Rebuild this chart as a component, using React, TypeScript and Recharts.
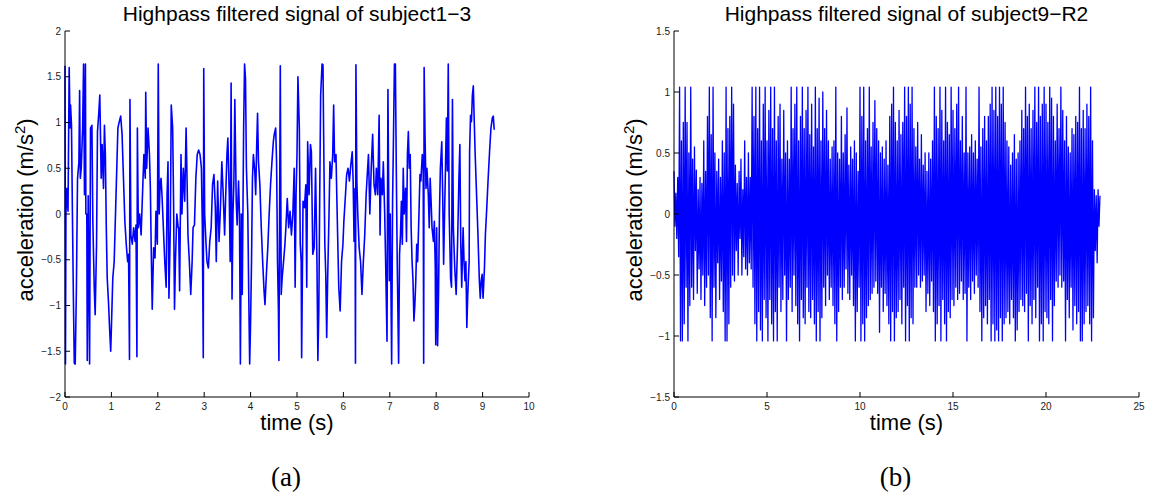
import React from 'react';
import { LineChart, Line, XAxis, YAxis } from 'recharts';

// (a) subject1-3, readings as [time s, acceleration m/s^2]
const subj13Part1: [number, number][] = [
  [0, 1.62], [0.01, -1.64], [0.02, 0], [0.04, 0.28], [0.065, 0.03], [0.09, 1.6], [0.11, 0.94], [0.12, 1.19],
  [0.14, 0.97], [0.16, 0], [0.18, -0.88], [0.2, -1.63], [0.22, -1.64], [0.245, -0.84], [0.27, 0.39], [0.3, 0.57],
  [0.315, 1.35], [0.33, 0.39], [0.35, 0.5], [0.38, 0.94], [0.4, 1.64], [0.42, 0.21], [0.44, 1.64], [0.45, 0],
  [0.47, 0], [0.48, -1.6], [0.5, 0.2], [0.53, -1.64], [0.55, 0.94], [0.58, 0.97], [0.6, -0.08], [0.63, -0.8],
  [0.65, -1.1], [0.68, -0.33], [0.7, 0.9], [0.73, 1.12], [0.75, 1.3], [0.78, 0.39], [0.8, 0.76], [0.83, 0.28],
  [0.85, 0.97], [0.87, 0.65], [0.89, -0.15], [0.91, -0.7], [0.94, -0.99], [0.96, -1.24], [0.985, -1.5], [1.0, -1.24],
  [1.03, -0.7], [1.06, -0.52], [1.09, 0.03], [1.12, 0.57], [1.14, 0.94], [1.17, 1.01], [1.2, 1.07], [1.23, 0.87],
  [1.26, 0.39], [1.29, -0.08], [1.32, -0.33], [1.35, -0.52], [1.37, -0.44], [1.39, -1.59], [1.4, 1.25], [1.42, -0.23],
  [1.45, -0.33], [1.48, -0.15], [1.51, -0.3], [1.53, -0.12], [1.55, -1.56], [1.56, 0.94], [1.58, -0.15], [1.61, 0],
  [1.64, -0.23], [1.67, 0.21], [1.7, 0.65], [1.73, 0.39], [1.74, 1.33], [1.76, 0.5], [1.79, 0.94], [1.82, 0.65],
  [1.84, 0.28], [1.86, -0.44], [1.88, -1.04], [1.91, -0.37], [1.94, -0.48], [1.96, 0.03], [1.99, -0.33], [2.01, 1.64],
  [2.03, 0], [2.05, 0.32], [2.07, 0.39], [2.09, 0.21], [2.12, -0.15], [2.15, -0.52], [2.18, -0.8], [2.2, 0.21],
  [2.22, 0.57], [2.24, -0.92], [2.27, -0.15], [2.29, 1.19], [2.32, 0.94], [2.34, 0.14], [2.36, -1.04], [2.38, -0.52],
  [2.41, 0], [2.44, -0.15],
];
const subj13Part2: [number, number][] = [
  [2.45, -0.15], [2.47, -0.84], [2.5, 0.65], [2.52, 0], [2.55, 0.5], [2.58, 0.14], [2.61, 0.94], [2.63, 0.39],
  [2.65, -0.23], [2.68, -0.52], [2.71, -0.88], [2.74, -0.52], [2.76, -0.15], [2.79, -0.12], [2.82, 0.39], [2.85, 0.65],
  [2.88, 0.7], [2.91, 0.65], [2.94, 0.5], [2.96, -0.15], [2.98, -1.57], [2.99, 1.59], [3.01, 0], [3.04, -0.33],
  [3.06, -0.52], [3.09, -0.59], [3.12, -0.3], [3.15, -0.15], [3.18, 0.32], [3.21, 0.43], [3.24, 0.07], [3.26, -0.52],
  [3.29, 0.36], [3.32, -0.3], [3.35, 0.07], [3.38, 0.57], [3.41, 0.21], [3.44, -0.23], [3.46, 0.14], [3.49, 0.65],
  [3.51, 0.83], [3.54, 0.21], [3.56, -0.52], [3.58, 1.43], [3.6, -0.93], [3.62, 0], [3.64, 0.36], [3.66, 1.25],
  [3.69, 0.14], [3.71, -0.12], [3.74, 0.36], [3.76, 0], [3.78, -1.64], [3.8, 0], [3.82, -0.88], [3.85, 0.94],
  [3.87, 1.64], [3.89, 1.48], [3.91, 0.5], [3.94, 0], [3.96, -0.88], [3.98, -1.64], [4.0, -1.17], [4.02, -0.52],
  [4.04, 0.39], [4.06, 0.65], [4.09, 0.47], [4.11, 0.21], [4.13, 0.72], [4.15, 1.1], [4.17, 0.57], [4.2, 0.32],
  [4.23, -0.15], [4.26, -0.52], [4.29, -0.84], [4.31, -0.99], [4.34, -0.66], [4.37, -0.37], [4.4, 0], [4.43, 0.32],
  [4.46, 0.57], [4.49, 0.79], [4.51, 0.87], [4.54, 0.94], [4.56, 0.57], [4.58, -0.52], [4.6, -1.06], [4.61, -1.6],
  [4.64, 1.62], [4.66, -0.88], [4.68, -0.7], [4.71, -0.52], [4.74, -0.33], [4.76, -0.15], [4.79, 0.17], [4.82, -0.15],
  [4.85, 0.03], [4.88, -0.23], [4.91, 0],
];
const subj13Part3: [number, number][] = [
  [4.94, 0.5], [4.96, -0.8], [4.98, 0.21], [5.0, 0.65], [5.02, 1.5], [5.05, 0.94], [5.07, -0.33], [5.09, -0.52],
  [5.1, -1.57], [5.13, 0.14], [5.16, 0.07], [5.19, 0.32], [5.21, -0.8], [5.23, 0.79], [5.26, 0.21], [5.29, 0.76],
  [5.31, 0.68], [5.34, -0.44], [5.37, -0.37], [5.4, 0.5], [5.43, -0.52], [5.45, -1.6], [5.47, -1.06], [5.49, 0.21],
  [5.51, 1.3], [5.54, 1.64], [5.56, 1.63], [5.58, 0.57], [5.6, -0.33], [5.62, -0.66], [5.64, -1.35], [5.66, -0.73],
  [5.69, 0], [5.71, 0.57], [5.74, 0.39], [5.77, 0.65], [5.79, 1.19], [5.81, 0.57], [5.84, 0.65], [5.86, 0.14],
  [5.88, -0.33], [5.9, -0.8], [5.93, -1.06], [5.96, -0.52], [5.99, -0.33], [6.01, -0.08], [6.04, 0.17], [6.07, 0.43],
  [6.1, 0.5], [6.13, 0.36], [6.16, 0.54], [6.19, 0.68], [6.21, 0.36], [6.23, -0.3], [6.25, 0.28], [6.26, -1.63],
  [6.27, 1.63], [6.29, 0.36], [6.31, 0], [6.34, -0.37], [6.37, -0.52], [6.4, -0.88], [6.43, -0.52], [6.46, -0.23],
  [6.49, 0.21], [6.51, 0.39], [6.54, 0.65], [6.57, 0], [6.6, 0.5], [6.63, 0.87], [6.66, 0.32], [6.69, 0.21],
  [6.71, 0.5], [6.74, 0.21], [6.77, 1.08], [6.79, -0.23], [6.81, 0.39], [6.84, 0.21], [6.86, 0.57], [6.89, 0],
  [6.91, -0.52], [6.94, -1.39], [6.96, 1.36], [6.99, -0.73], [7.01, 0], [7.04, -1.64], [7.06, 0.14], [7.08, 0.87],
  [7.1, 1.64], [7.12, 1.64], [7.14, 0.5], [7.16, -0.52], [7.19, -1.63], [7.21, -0.44], [7.23, -0.23], [7.25, 0.14],
  [7.27, -0.33], [7.29, 0.5], [7.31, 0], [7.34, 0.28], [7.36, -0.3], [7.38, 0.65], [7.4, 0.9], [7.42, 0.5],
];
const subj13Part4: [number, number][] = [
  [7.44, 0.65], [7.46, -0.15], [7.48, -0.52], [7.5, -0.73], [7.52, -1.17], [7.54, -0.99], [7.56, -0.73], [7.58, -0.33],
  [7.6, -0.52], [7.63, 0.03], [7.65, 0.43], [7.67, 0.36], [7.7, 0.65], [7.72, 0.5], [7.73, -1.63], [7.74, 1.6],
  [7.76, 0.83], [7.78, 0.28], [7.8, 0.5], [7.83, 0.21], [7.85, -0.15], [7.87, 0.39], [7.89, 0.14], [7.91, -0.15],
  [7.94, -0.3], [7.96, -0.08], [7.98, -0.59], [7.99, -1.43], [8.01, -0.15], [8.03, -1.44], [8.05, -0.88], [8.07, 0],
  [8.09, 0.5], [8.12, 0.79], [8.14, 0.21], [8.16, -0.55], [8.18, 0], [8.2, 0.5], [8.22, 1.05], [8.24, 0.47],
  [8.26, 1.64], [8.28, 0], [8.31, -0.7], [8.33, -0.8], [8.35, 1.25], [8.37, -0.15], [8.4, -0.59], [8.43, -0.88],
  [8.46, -0.33], [8.49, 0.39], [8.51, 0.76], [8.53, -0.33], [8.55, -0.8], [8.58, -0.15], [8.6, -0.52], [8.62, -0.73],
  [8.64, -0.52], [8.66, -1.24], [8.68, -0.88], [8.71, -0.52], [8.72, 0.68], [8.74, 1.08], [8.76, 1.01], [8.78, 1.3],
  [8.8, 1.4], [8.82, 1.01], [8.84, 0.65], [8.87, 0.21], [8.9, -0.23], [8.93, -0.73], [8.95, -0.92], [8.97, -0.73],
  [8.99, -0.66], [9.01, -0.92], [9.04, -0.59], [9.06, -0.23], [9.09, 0.07], [9.12, 0.39], [9.15, 0.68], [9.18, 0.94],
  [9.21, 1.05], [9.23, 1.07], [9.25, 0.92],
];

// (b) subject9-R2, one sample every 0.05 s, one row per second
const SAMPLE_STEP_B = 0.05;
const subj9R2Part1 = [
  0.35, -0.1, 0.17, -0.2, 0.3, -0.35, 1.04, -1.04, 0.6, -1.04, 0.75, -0.9, 1.04, -0.6, 0.75, -1.04, 0.5, -0.75, 1.04, -0.6,
  0.45, -0.7, 0.55, -0.3, 0.36, -0.65, 0.2, -0.45, 0.3, -0.7, 0.25, -0.5, 0.6, -0.75, 0.35, -0.6, 0.8, -0.5, 1.04, -0.85,
  0.65, -1.04, 1.04, -0.6, 0.5, -0.85, 0.35, -0.4, 0.45, -0.7, 0.3, -0.55, 0.6, -0.8, 0.5, -1.04, 1.04, -1.04, 0.7, -0.9,
  0.8, -0.6, 1.04, -0.5, 0.9, -0.55, 0.4, -0.3, 0.25, -0.5, 0.35, -0.2, 0.45, -0.5, 0.2, -0.35, 0.6, -0.45, 0.3, -0.5,
  0.5, -0.4, 0.3, -0.45, 1.04, -0.6, 0.8, -0.9, 1.04, -1.04, 0.7, -0.8, 1.04, -0.95, 0.6, -1.04, 0.9, -0.7, 1.04, -0.85,
  0.6, -1.04, 0.85, -0.7, 1.04, -0.9, 0.7, -1.04, 1.04, -0.8, 0.6, -1.04, 0.8, -0.6, 0.9, -0.8, 0.45, -0.7, 0.85, -0.5,
];
const subj9R2Part2 = [
  0.5, -1.04, 0.6, -0.7, 0.45, -0.6, 1.04, -0.8, 0.7, -0.5, 0.9, -0.75, 1.04, -0.9, 0.6, -1.04, 0.8, -0.7, 1.04, -0.85,
  0.7, -0.9, 0.85, -0.6, 1.04, -0.8, 0.65, -0.85, 0.9, -0.7, 0.55, -0.9, 1.04, -1.04, 0.7, -0.8, 0.95, -1.04, 0.6, -0.85,
  1.0, -0.6, 0.7, -0.75, 0.85, -0.5, 0.6, -0.7, 0.45, -0.6, 0.55, -0.75, 0.6, -0.9, 1.04, -1.04, 0.5, -0.8, 0.45, -0.6,
  0.8, -0.7, 0.5, -0.6, 0.65, -0.45, 0.87, -0.65, 0.4, -0.7, 0.55, -0.5, 0.45, -0.75, 0.6, -1.04, 0.5, -0.8, 0.35, -0.6,
  1.04, -1.04, 0.8, -0.9, 1.04, -1.04, 0.6, -0.85, 0.7, -0.75, 1.04, -0.7, 0.55, -0.65, 0.75, -0.6, 0.93, -0.55, 0.7, -0.65,
  0.6, -0.97, 0.5, -0.6, 0.55, -0.8, 0.45, -0.65, 0.6, -0.75, 0.4, -0.9, 0.8, -1.04, 0.9, -0.8, 1.04, -1.04, 0.75, -0.85,
];
const subj9R2Part3 = [
  0.6, -0.8, 0.85, -0.7, 0.65, -0.9, 0.75, -0.6, 1.04, -1.04, 0.8, -0.75, 1.04, -1.04, 0.9, -0.85, 1.04, -0.9, 0.7, -0.6,
  0.55, -0.6, 0.75, -0.5, 0.45, -0.6, 0.65, -0.55, 0.4, -0.5, 0.5, -0.8, 0.35, -0.65, 0.5, -0.75, 0.45, -0.55, 0.6, -0.8,
  1.04, -1.04, 0.8, -0.9, 0.7, -0.75, 1.04, -1.04, 0.85, -0.7, 0.6, -0.9, 1.04, -1.04, 0.75, -0.8, 0.65, -0.85, 1.04, -0.7,
  0.85, -0.75, 0.7, -0.6, 0.9, -0.7, 1.04, -0.65, 0.6, -0.55, 0.8, -0.7, 0.5, -0.65, 1.04, -1.04, 0.5, -0.6, 0.55, -0.7,
  0.65, -0.55, 0.5, -0.65, 0.6, -0.5, 0.45, -0.6, 1.04, -0.8, 0.55, -1.04, 0.7, -0.85, 0.8, -0.75, 0.6, -0.9, 0.8, -0.7,
  0.9, -1.04, 1.04, -0.9, 0.85, -1.04, 1.04, -0.95, 0.8, -1.04, 1.04, -0.85, 0.9, -1.04, 1.04, -0.9, 0.75, -0.85, 0.6, -0.8,
];
const subj9R2Part4 = [
  0.55, -0.9, 0.4, -0.7, 0.5, -0.85, 0.65, -1.04, 0.45, -0.95, 0.5, -0.8, 0.6, -0.7, 0.85, -0.75, 0.7, -0.8, 1.04, -0.65,
  0.8, -1.04, 0.9, -0.75, 0.7, -0.9, 0.85, -0.7, 1.04, -0.85, 0.75, -0.6, 1.04, -1.04, 0.8, -0.9, 0.9, -1.04, 1.04, -0.8,
  0.9, -0.85, 0.75, -0.9, 1.04, -0.7, 0.95, -1.04, 0.8, -0.75, 0.6, -0.55, 0.9, -0.6, 0.7, -0.5, 1.04, -0.6, 0.85, -0.55,
  0.6, -1.04, 0.8, -0.7, 0.55, -0.85, 0.5, -0.6, 0.7, -0.95, 0.65, -0.75, 0.8, -0.9, 0.75, -0.8, 1.04, -1.04, 0.7, -1.04,
  0.85, -0.9, 0.7, -0.8, 0.9, -0.75, 0.8, -0.9, 1.04, -1.04, 0.6, -0.85, 0.2, -0.3, 0.15, -0.4, 0.2, -0.1, 0.15,
];

const xTicksA = [0, 1, 2, 3, 4, 5, 6, 7, 8, 9, 10];
const yTicksA = [-2, -1.5, -1, -0.5, 0, 0.5, 1, 1.5, 2];
const xTicksB = [0, 5, 10, 15, 20, 25];
const yTicksB = [-1.5, -1, -0.5, 0, 0.5, 1, 1.5];

const dataA = [...subj13Part1, ...subj13Part2, ...subj13Part3, ...subj13Part4].map(([t, a]) => ({ t, a }));
const dataB = [...subj9R2Part1, ...subj9R2Part2, ...subj9R2Part3, ...subj9R2Part4].map((a, i) => ({
  t: +(i * SAMPLE_STEP_B).toFixed(2),
  a,
}));

const SANS = '"Liberation Sans", Arial, Helvetica, sans-serif';
const SERIF = '"Liberation Serif", "Times New Roman", serif';
const TICK_LEN = 5;
const fmt = (v: number) => String(v).replace('-', '\u2212');

// MATLAB-style inward ticks on all four sides
const BottomTick = ({ x, y, payload }: any) => (
  <g>
    <line x1={x} x2={x} y1={y} y2={y - TICK_LEN} stroke="#000" />
    <text x={x} y={y + 12.5} textAnchor="middle" fontSize={10} fontFamily={SANS} fill="#1a1a1a">
      {fmt(payload.value)}
    </text>
  </g>
);
const LeftTick = ({ x, y, payload }: any) => (
  <g>
    <line x1={x} x2={x + TICK_LEN} y1={y} y2={y} stroke="#000" />
    <text x={x - 4} y={y + 3.6} textAnchor="end" fontSize={10} fontFamily={SANS} fill="#1a1a1a">
      {fmt(payload.value)}
    </text>
  </g>
);
const TopTick = ({ x, y }: any) => <line x1={x} x2={x} y1={y} y2={y + TICK_LEN} stroke="#000" />;
const RightTick = ({ x, y }: any) => <line x1={x} x2={x - TICK_LEN} y1={y} y2={y} stroke="#000" />;

type PanelProps = {
  data: { t: number; a: number }[];
  xTicks: number[];
  yTicks: number[];
  width: number;
  lineWidth: number;
  margin: { top: number; right: number; bottom: number; left: number };
};

const Panel = ({ data, xTicks, yTicks, width, lineWidth, margin }: PanelProps) => {
  const xDomain = [xTicks[0], xTicks[xTicks.length - 1]];
  const yDomain = [yTicks[0], yTicks[yTicks.length - 1]];
  return (
    <LineChart width={width} height={440} data={data} margin={margin}>
      <XAxis
        xAxisId="b"
        dataKey="t"
        type="number"
        domain={xDomain}
        ticks={xTicks}
        interval={0}
        height={30}
        tickSize={0}
        tickMargin={0}
        tickLine={false}
        axisLine={{ stroke: '#000' }}
        tick={(p: any) => <BottomTick {...p} />}
      />
      <XAxis
        xAxisId="t"
        orientation="top"
        dataKey="t"
        type="number"
        domain={xDomain}
        ticks={xTicks}
        interval={0}
        height={0}
        tickSize={0}
        tickMargin={0}
        tickLine={false}
        axisLine={{ stroke: '#000' }}
        tick={(p: any) => <TopTick {...p} />}
      />
      <YAxis
        yAxisId="l"
        type="number"
        domain={yDomain}
        ticks={yTicks}
        interval={0}
        width={40}
        tickSize={0}
        tickMargin={0}
        tickLine={false}
        axisLine={{ stroke: '#000' }}
        tick={(p: any) => <LeftTick {...p} />}
      />
      <YAxis
        yAxisId="r"
        orientation="right"
        type="number"
        domain={yDomain}
        ticks={yTicks}
        interval={0}
        width={0}
        tickSize={0}
        tickMargin={0}
        tickLine={false}
        axisLine={{ stroke: '#000' }}
        tick={(p: any) => <RightTick {...p} />}
      />
      <Line
        xAxisId="b"
        yAxisId="l"
        type="linear"
        dataKey="a"
        stroke="#0000ff"
        strokeWidth={lineWidth}
        strokeLinejoin="round"
        dot={false}
        isAnimationActive={false}
      />
    </LineChart>
  );
};

const YLabel = ({ x, y }: { x: number; y: number }) => (
  <text x={x} y={y} transform={`rotate(-90, ${x}, ${y})`} textAnchor="middle" fontSize={22} fontFamily={SANS} fill="#000">
    acceleration (m/s
    <tspan dy={-8} fontSize={15}>2</tspan>
    <tspan dy={8}>)</tspan>
  </text>
);

const App: React.FC = () => (
  <div style={{ position: 'absolute', left: 0, top: 0, width: 1149, height: 494, background: '#fff' }}>
    <div style={{ position: 'absolute', left: 0, top: 0 }}>
      <Panel data={dataA} xTicks={xTicksA} yTicks={yTicksA} width={540} lineWidth={1.6} margin={{ top: 31, right: 11, bottom: 13, left: 25 }} />
    </div>
    <div style={{ position: 'absolute', left: 600, top: 0 }}>
      <Panel data={dataB} xTicks={xTicksB} yTicks={yTicksB} width={549} lineWidth={1.3} margin={{ top: 31, right: 10, bottom: 13, left: 34 }} />
    </div>
    <svg width={1149} height={494} style={{ position: 'absolute', left: 0, top: 0, pointerEvents: 'none' }}>
      <text x={297} y={20.5} textAnchor="middle" fontSize={21} fontFamily={SANS} fill="#000">
        Highpass filtered signal of subject1{'\u2212'}3
      </text>
      <text x={906.5} y={20.5} textAnchor="middle" fontSize={21} fontFamily={SANS} fill="#000">
        Highpass filtered signal of subject9{'\u2212'}R2
      </text>
      <YLabel x={32.5} y={210} />
      <YLabel x={641.5} y={210} />
      <text x={297} y={430} textAnchor="middle" fontSize={22} fontFamily={SANS} fill="#000">time (s)</text>
      <text x={906.5} y={430} textAnchor="middle" fontSize={22} fontFamily={SANS} fill="#000">time (s)</text>
      <text x={286} y={486} textAnchor="middle" fontSize={27} fontFamily={SERIF} fill="#000">(a)</text>
      <text x={895.5} y={486} textAnchor="middle" fontSize={27} fontFamily={SERIF} fill="#000">(b)</text>
    </svg>
  </div>
);

export default App;
